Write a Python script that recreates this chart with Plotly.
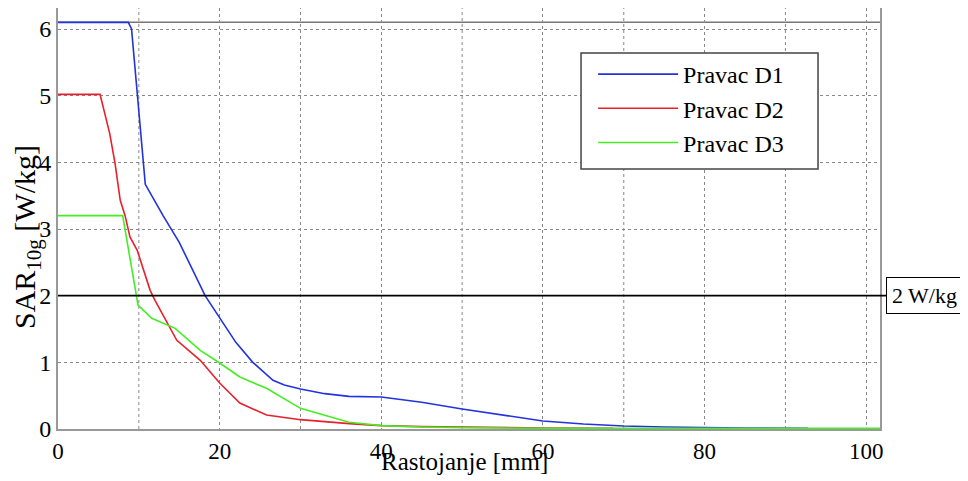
import plotly.graph_objects as go

# Series data (distance in mm, SAR10g in W/kg)
d1_x = [0, 8.7, 9.1, 10.8, 13, 15, 18.2, 20, 22, 24.1, 26.6, 28, 30, 33, 36, 40, 45, 50, 55, 60, 65, 70, 75, 80, 85, 92.8]
d1_y = [6.1, 6.1, 6.0, 3.67, 3.2, 2.8, 2.0, 1.66, 1.3, 1.0, 0.73, 0.66, 0.6, 0.53, 0.49, 0.48, 0.4, 0.3, 0.21, 0.12, 0.075, 0.045, 0.03, 0.02, 0.015, 0.01]

d2_x = [0, 5.2, 6.4, 7.05, 7.7, 8.3, 8.9, 9.8, 11.4, 12, 14.7, 17.6, 20, 22.5, 25.8, 30, 36, 40, 45, 50, 55, 60, 68.7]
d2_y = [5.02, 5.02, 4.43, 3.99, 3.43, 3.2, 2.88, 2.68, 2.08, 1.93, 1.33, 1.03, 0.69, 0.39, 0.21, 0.14, 0.08, 0.05, 0.035, 0.025, 0.02, 0.015, 0.01]

d3_x = [0, 8.0, 9.9, 11.6, 14.5, 17.6, 20, 22.5, 25.8, 30, 36, 40, 45, 50, 60, 70, 80, 90, 101.7]
d3_y = [3.2, 3.2, 1.86, 1.66, 1.51, 1.18, 0.99, 0.78, 0.61, 0.31, 0.1, 0.05, 0.03, 0.02, 0.012, 0.01, 0.01, 0.01, 0.01]

names = ["Pravac D1", "Pravac D2", "Pravac D3"]
colors = ["#2233dd", "#e8202c", "#44ee22"]

limit_value = 2
limit_label = "2 W/kg"
max_line_value = 6.1

x_ticks = [0, 20, 40, 60, 80, 100]
y_ticks = [0, 1, 2, 3, 4, 5, 6]
x_title = "Rastojanje [mm]"
y_title = "SAR<sub>10g</sub> [W/kg]"

FONT = "Liberation Serif"

fig = go.Figure()
for xs, ys, n, c in zip([d1_x, d2_x, d3_x], [d1_y, d2_y, d3_y], names, colors):
    fig.add_trace(go.Scatter(x=xs, y=ys, mode="lines", name=n,
                             line=dict(color=c, width=1.6)))

# legend frame drawn as a shape (wider than plotly's own legend box)
fig.add_shape(type="rect", xref="paper", yref="paper", x0=0.6363, x1=0.9246, y0=0.6176, y1=0.8931,
              line=dict(color="#444444", width=1.5), fillcolor="white", layer="above")

# horizontal reference lines
fig.add_shape(type="line", xref="paper", yref="y", x0=0, x1=1, y0=max_line_value, y1=max_line_value,
              line=dict(color="#777777", width=1.5), layer="below")
fig.add_shape(type="line", xref="paper", yref="y", x0=0, x1=1.0075, y0=limit_value, y1=limit_value,
              line=dict(color="black", width=1.8))
fig.add_annotation(xref="paper", yref="y", x=1.0075, y=limit_value, xanchor="left", yanchor="middle",
                   text=limit_label, showarrow=False, bordercolor="black", borderwidth=1,
                   bgcolor="white", borderpad=5, font=dict(family=FONT, size=22, color="black"))

# axis titles as annotations for exact placement
fig.add_annotation(xref="paper", yref="paper", x=0.495, y=-0.077, xanchor="center", yanchor="middle",
                   text=x_title, showarrow=False, font=dict(family=FONT, size=25, color="black"))
fig.add_annotation(xref="paper", yref="paper", x=-0.037, y=0.455, xanchor="center", yanchor="middle",
                   text=y_title, textangle=-90, showarrow=False, font=dict(family=FONT, size=30, color="black"))

# the page body adds an 8px offset, so the figure is sized 8px smaller than the window
fig.update_layout(
    width=960, height=473,
    margin=dict(l=50, r=88, t=0, b=52, autoexpand=False),
    paper_bgcolor="white", plot_bgcolor="white",
    font=dict(family=FONT, color="black"),
    showlegend=True,
    legend=dict(x=0.651, y=0.8955, xanchor="left", yanchor="top",
                borderwidth=0, bgcolor="rgba(0,0,0,0)",
                font=dict(family=FONT, size=24, color="black"),
                itemwidth=80, tracegroupgap=0),
    xaxis=dict(range=[0, 101.7], tickvals=x_ticks, ticktext=[str(v) for v in x_ticks],
               showgrid=True, gridcolor="#888888", griddash="dot", gridwidth=1,
               showline=True, linecolor="#999999", linewidth=2, mirror=True, automargin=False,
               zeroline=False, ticks="",
               tickfont=dict(family=FONT, size=23, color="black")),
    yaxis=dict(range=[0, 6.315], tickvals=y_ticks, ticktext=[str(v) for v in y_ticks],
               showgrid=True, gridcolor="#888888", griddash="dot", gridwidth=1,
               showline=True, linecolor="#999999", linewidth=2, mirror=True, automargin=False,
               zeroline=False, ticks="", tickfont=dict(family=FONT, size=24, color="black")),
)

# vertical grid at every 10 mm between labelled ticks
for v in range(10, 101, 20):
    fig.add_shape(type="line", xref="x", yref="paper", x0=v, x1=v, y0=0, y1=1,
                  line=dict(color="#888888", width=1, dash="dot"), layer="below")

fig.write_html("out.html")
